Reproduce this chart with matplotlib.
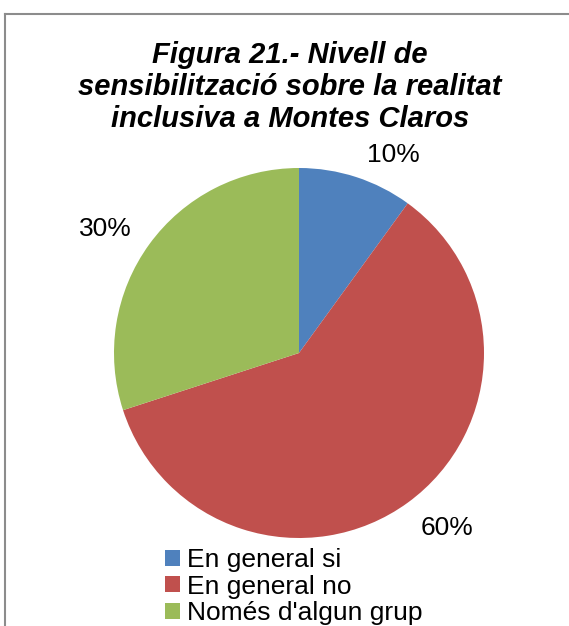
import matplotlib.pyplot as plt
from matplotlib.lines import Line2D

categories = ["En general si", "En general no", "Només d'algun grup"]
values = [10, 60, 30]
colors = ["#4F81BD", "#C0504D", "#9BBB59"]
title = "Figura 21.- Nivell de\nsensibilització sobre la realitat\ninclusiva a Montes Claros"

W, H = 569, 626
plt.rcParams['font.family'] = ['Liberation Sans', 'DejaVu Sans']

fig = plt.figure(figsize=(W / 100, H / 100), dpi=100)

# pie area in pixels: centre (299, 353), radius 185
cx, cy, r = 299, 353, 185
ax = fig.add_axes([(cx - r) / W, (H - cy - r) / H, 2 * r / W, 2 * r / H])
wedges, texts, autotexts = ax.pie(values, colors=colors, startangle=90, counterclock=False,
                                  autopct='%1.0f%%', pctdistance=1.2,
                                  wedgeprops=dict(linewidth=0),
                                  textprops=dict(fontsize=19, color='black'))
ax.set_xlim(-1, 1)
ax.set_ylim(-1, 1)
ax.set_aspect('equal')

# label spots (pixels)
label_px = [(393, 155), (447, 528), (105, 229)]
for t, (px, py) in zip(autotexts, label_px):
    t.set_position(((px - cx) / r, (cy - py) / r))
    t.set_ha('center')
    t.set_va('center')

fig.text(290 / W, 1 - 87 / H, title, ha='center', va='center', fontsize=21,
         fontweight='bold', fontstyle='italic', linespacing=1.2)

leg = fig.legend(wedges, categories, loc='upper left', bbox_to_anchor=(165 / W, 1 - 548 / H),
                 frameon=False, fontsize=19, handlelength=0.55, handleheight=0.55,
                 handletextpad=0.3, labelspacing=0.1, borderpad=0, borderaxespad=0)

# chart border (only top and left show in the crop)
fig.add_artist(Line2D([5 / W, 568 / W], [1 - 14 / H, 1 - 14 / H], color='#8c8c8c', lw=1.5))
fig.add_artist(Line2D([5 / W, 5 / W], [1 - 14 / H, 0], color='#8c8c8c', lw=1.5))

fig.savefig('out.png', dpi=100)
